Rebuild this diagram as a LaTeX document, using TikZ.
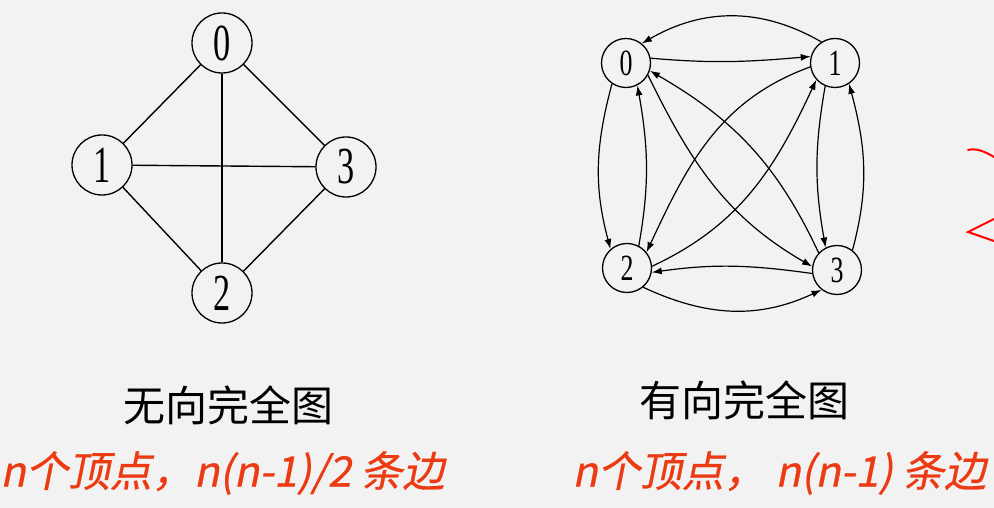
\documentclass[tikz,border=0pt]{standalone}
\usepackage{fontspec}
\usetikzlibrary{arrows.meta}
\newfontfamily\cjk{Noto Sans CJK SC}
\newfontfamily\cjkit[FakeSlant=0.2,FakeBold=0.6]{Noto Sans CJK SC}
\newfontfamily\digfont{Liberation Serif}
\definecolor{bg}{RGB}{242,242,242}
\definecolor{redtxt}{RGB}{236,58,18}
\tikzset{
  bignode/.style={circle,draw,line width=1.3pt,minimum size=60pt,inner sep=0pt,
    font=\digfont\fontsize{52}{52}\selectfont},
  smallnode/.style={circle,draw,line width=1.3pt,minimum size=49pt,inner sep=0pt,
    font=\digfont\fontsize{37}{37}\selectfont},
  undedge/.style={line width=1.4pt},
  dirarc/.style={line width=1.2pt,-{Latex[length=10pt,width=7pt]}},
  titletxt/.style={font=\cjk\fontsize{42}{48}\selectfont,inner sep=0pt},
  redline/.style={font=\cjkit\fontsize{42}{48}\selectfont,text=redtxt,inner sep=0pt,anchor=west},
  redmark/.style={draw=red,line width=2pt,line cap=round}
}
\newcommand{\dg}[1]{\scalebox{0.66}[1]{#1}}
\newcommand{\ds}[1]{\scalebox{0.7}[1]{#1}}
\begin{document}
\begin{tikzpicture}[x=1pt,y=1pt]
\fill[bg] (0,0) rectangle (994,508);
\useasboundingbox (0,0) rectangle (994,508);
% undirected complete graph
\node[bignode] (a0) at (222,465) {\dg{0}};
\node[bignode] (a1) at (102,343) {\dg{1}};
\node[bignode] (a3) at (346,341) {\dg{3}};
\node[bignode] (a2) at (222,215) {\dg{2}};
\draw[undedge] (a0) -- (a1);
\draw[undedge] (a0) -- (a3);
\draw[undedge] (a0) -- (a2);
\draw[undedge] (a1) -- (a3);
\draw[undedge] (a1) -- (a2);
\draw[undedge] (a3) -- (a2);
% directed complete graph
\node[smallnode] (b0) at (626,445) {\ds{0}};
\node[smallnode] (b1) at (835,445) {\ds{1}};
\node[smallnode] (b2) at (627,240) {\ds{2}};
\node[smallnode] (b3) at (837,238) {\ds{3}};
\draw[dirarc] (b1.123) to[out=150,in=30] (b0.51);
\draw[dirarc] (b0.11) to[out=-5,in=185] (b1.165);
\draw[dirarc] (b0.236) to[out=255,in=105] (b2.131);
\draw[dirarc] (b2.62) to[out=80,in=-80] (b0.-63);
\draw[dirarc] (b1.247) to[out=260,in=100] (b3.117);
\draw[dirarc] (b3.52) to[out=75,in=-75] (b1.-56);
\draw[dirarc] (b3.188) to[out=172,in=8] (b2.-10);
\draw[dirarc] (b2.-50) to[out=-25,in=205] (b3.232);
\draw[dirarc] (b0.-29) to[out=-64,in=150] (b3.172);
\draw[dirarc] (b3.137) to[out=115,in=-30] (b0.-18);
\draw[dirarc] (b1.189) to[out=200,in=65] (b2.39);
\draw[dirarc] (b2.4) to[out=25,in=245] (b1.222);
% captions
\node[titletxt] (t1) at (228,103) {无向完全图};
\node[titletxt] (t2) at (744,108) {有向完全图};
\node[redline] (r1) at (0,35) {n个顶点，n(n-1)/2 条边};
\node[redline] (r2) at (572,35) {n个顶点， n(n-1) 条边};
% red annotation marks at the right edge
\draw[redmark] (968,358) .. controls (976,360) and (984,357) .. (994,351);
\draw[redmark] (994,289) -- (968,276) -- (994,267);
\end{tikzpicture}
\end{document}
